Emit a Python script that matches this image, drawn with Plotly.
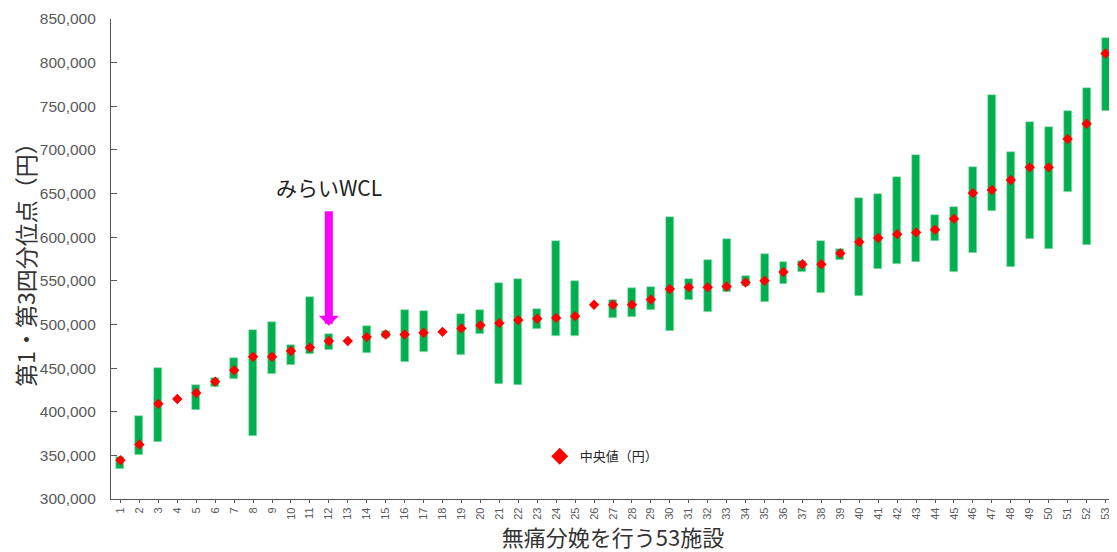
import plotly.graph_objects as go

facilities = [str(i) for i in range(1, 54)]

q1 = [334000, 350000, 365500, None, 401500, 428000, 437000, 372500, 443500, 453500,
      466000, 471000, None, 467500, 485000, 457000, 469000, None, 465500, 489500,
      431500, 430500, 494500, 487000, 487000, None, 507500, 509000, 517000, 492500,
      527500, 514500, 537500, 543500, 526000, 546000, 560000, 535500, 573500, 533000,
      563500, 569000, 572000, 595500, 560000, 581500, 630500, 566000, 597500, 587000,
      651500, 590500, 745000]

median = [344500, 362500, 409000, 414500, 421500, 434500, 447500, 463000, 463000, 469500,
          473500, 481000, 481000, 485500, 488500, 488500, 490500, 491500, 495500, 499000,
          501500, 505000, 506500, 507500, 509500, 522500, 522500, 522500, 528500, 540500,
          542500, 542500, 543500, 548000, 550000, 560000, 569000, 569000, 581500, 594500,
          599000, 603500, 605500, 608500, 621000, 650500, 654000, 665500, 680000, 680000,
          712500, 730000, 810500]

q3 = [348000, 395500, 450500, None, 431000, 438500, 461500, 493500, 503000, 476500,
      531000, 488500, None, 498000, 492500, 516000, 515000, None, 512000, 517000,
      548000, 552000, 518000, 596000, 549500, None, 527500, 541500, 542500, 623000,
      552500, 573500, 597500, 555500, 580500, 571500, 572500, 595500, 587000, 645000,
      649500, 669500, 694000, 625500, 635000, 680500, 762500, 697500, 731500, 726500,
      744500, 770500, 828500]

highlight_facility = "12"
highlight_label = "みらいWCL"
legend_label = "中央値（円）"
y_title = "第1・第3四分位点（円）"
x_title = "無痛分娩を行う53施設"

iqr = [(b - a) if (a is not None and b is not None) else None for a, b in zip(q1, q3)]
hl_index = facilities.index(highlight_facility)  # category axes take the index for annotations

fig = go.Figure()
fig.add_trace(go.Bar(
    x=facilities, y=iqr, base=q1, width=0.42,
    marker=dict(color="#00B050", line=dict(color="#9FE0B8", width=0.6)),
    showlegend=False, hoverinfo="skip",
))
fig.add_trace(go.Scatter(
    x=facilities, y=median, mode="markers",
    marker=dict(symbol="diamond", size=8, color="#FF0000"),
    showlegend=False,
))
fig.add_trace(go.Scatter(
    x=[None], y=[None], mode="markers", name=legend_label,
    marker=dict(symbol="diamond", size=13, color="#FF0000"),
    showlegend=True,
))

fig.add_annotation(
    x=hl_index, y=498500, xref="x", yref="y",
    ax=0, ay=-116, showarrow=True,
    arrowhead=1, arrowsize=0.42, arrowwidth=8, arrowcolor="#FF00FF", text="",
)
fig.add_annotation(
    x=hl_index, y=657000, xref="x", yref="y",
    text=highlight_label, showarrow=False,
    font=dict(family="Noto Sans CJK JP", size=21, color="#222222"),
)

# the page body has an 8px margin, so the figure is sized to fit the 1117x552 window
fig.update_layout(
    width=1109, height=544,
    margin=dict(l=103, r=2, t=9, b=53),
    paper_bgcolor="white", plot_bgcolor="white",
    bargap=0,
    font=dict(family="Noto Sans CJK JP", color="#404040"),
    legend=dict(
        x=0.427, y=0.089, xanchor="left", yanchor="middle",
        bgcolor="rgba(0,0,0,0)",
        font=dict(family="Noto Sans CJK JP", size=13, color="#262626"),
    ),
)
fig.update_xaxes(
    type="category", range=[-0.5, 52.5],
    showline=True, linecolor="#595959", linewidth=1.2,
    ticks="outside", ticklen=3, tickcolor="#595959",
    tickangle=-90, tickfont=dict(family="Liberation Sans", size=11, color="#595959"),
    showgrid=False, zeroline=False,
    title=dict(text=x_title, font=dict(family="Noto Sans CJK JP", size=22, color="#333333"), standoff=5),
)
fig.update_yaxes(
    range=[300000, 850000], dtick=50000, tickformat=",",
    showline=True, linecolor="#595959", linewidth=1.2,
    ticks="inside", ticklen=6, tickcolor="#595959",
    ticklabelstandoff=11,
    tickfont=dict(family="Liberation Sans", size=15.5, color="#595959"),
    showgrid=False, zeroline=False,
    title=dict(text=y_title, font=dict(family="Noto Sans CJK JP", size=23, color="#333333"), standoff=0),
)

fig.write_html("out.html")
